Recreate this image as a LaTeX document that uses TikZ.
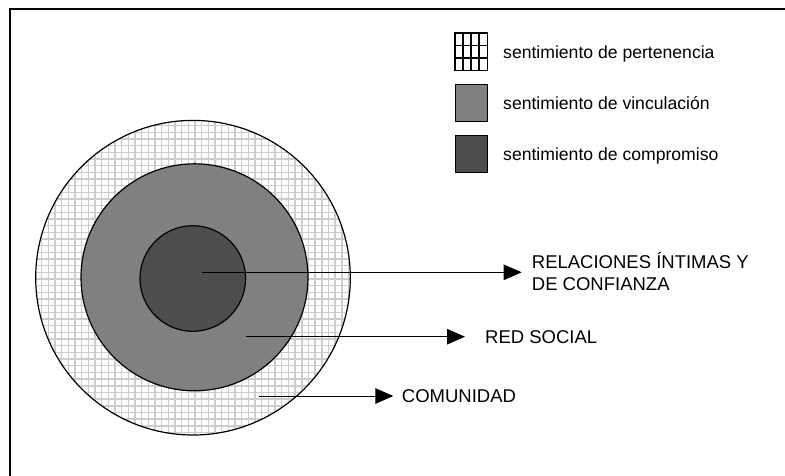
\documentclass[tikz,border=0pt]{standalone}
\usepackage{fontspec}
\setmainfont{Liberation Sans}
\usetikzlibrary{arrows.meta}
\definecolor{midg}{RGB}{128,128,128}
\definecolor{darkg}{RGB}{77,77,77}
\definecolor{gridg}{RGB}{204,204,204}
\begin{document}
\begin{tikzpicture}[x=1pt,y=-1pt,
  ring/.style={draw=black,line width=1.2pt},
  disc/.style={circle,inner sep=0pt,outer sep=0pt},
  conn/.style={line width=1pt,-{Triangle[length=18pt,width=15.5pt]}},
  lbl/.style={anchor=base west,inner sep=0pt,font=\fontsize{18.5}{22.4}\selectfont},
  leg/.style={anchor=base west,inner sep=0pt,font=\fontsize{17.6}{21}\selectfont},
  legbox/.style={draw=black,line width=1pt,minimum width=32pt,minimum height=37pt,inner sep=0pt},
  gridline/.style={draw=gridg,line width=1.4pt},
  keyline/.style={draw=black,line width=1.2pt}
]
\useasboundingbox (0,0) rectangle (785,475);
\fill[white] (0,0) rectangle (785,475);
% frame (only top and left edges visible)
\draw[line width=1.6pt] (9.7,476) -- (9.7,8.8) -- (786,8.8);

% outer ring with light grid
\node[disc,fill=white,minimum size=314.6pt] (outer) at (193,277.7) {};
\begin{scope}
  \clip (193,277.7) circle[radius=157.3pt];
  \foreach \i in {0,...,48} {
    \draw[gridline] ({35+\i*6.67},118) -- ++(0,322);
    \draw[gridline] (34,{119+\i*6.67}) -- ++(322,0);
  }
\end{scope}
\draw[ring] (outer.center) circle[radius=157.3pt];

% middle and inner circles
\node[disc,ring,fill=midg,minimum size=227pt] (middle) at (194.5,277.3) {};
\node[disc,ring,fill=darkg,minimum size=105.6pt] (inner) at (192.8,278.5) {};

% legend
\node[legbox,fill=white] (k1) at (471,51.7) {};
\foreach \x in {463,471,479} \draw[keyline] (\x,33.2) -- (\x,70.2);
\foreach \y in {45.6,58} \draw[keyline] (455,\y) -- (487,\y);
\draw[black,line width=1pt] (k1.south west) rectangle (k1.north east);
\node[legbox,fill=midg] (k2) at (471,102.5) {};
\node[legbox,fill=darkg] (k3) at (471,154) {};
\node[leg] (t1) at (503,58.2) {sentimiento de pertenencia};
\node[leg] (t2) at (503,109) {sentimiento de vinculación};
\node[leg] (t3) at (503,160.5) {sentimiento de compromiso};

% labels
\node[lbl] (l1) at (531.7,268.3) {RELACIONES ÍNTIMAS Y};
\node[lbl] (l1b) at (531.7,290.7) {DE CONFIANZA};
\node[lbl] (l2) at (485,343.3) {RED SOCIAL};
\node[lbl] (l3) at (401.7,402.5) {COMUNIDAD};

% connectors
\coordinate (a1) at (202.3,272.3);
\coordinate (h1) at (521.7,272.3);
\coordinate (a2) at (245.7,336.7);
\coordinate (h2) at (465,336.7);
\coordinate (a3) at (259,396);
\coordinate (h3) at (393.3,396);
\draw[conn] (a1) -- (h1);
\draw[conn] (a2) -- (h2);
\draw[conn] (a3) -- (h3);
\end{tikzpicture}
\end{document}
